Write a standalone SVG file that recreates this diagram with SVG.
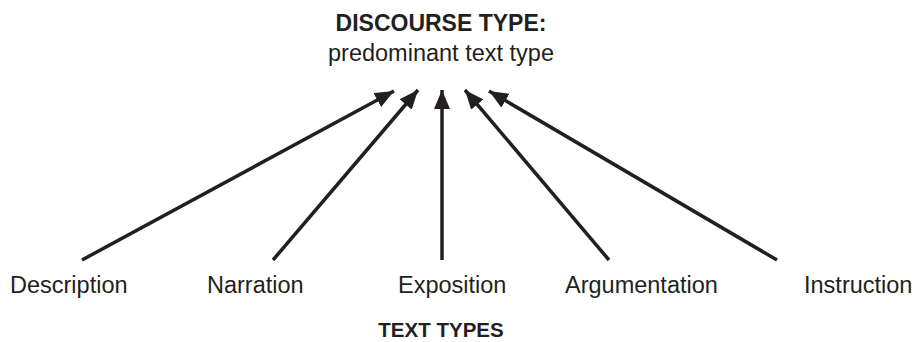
<svg xmlns="http://www.w3.org/2000/svg" width="914" height="342" viewBox="0 0 914 342">
  <style>
    text { font-family: "Liberation Sans", Arial, sans-serif; fill: #231f20; }
    .head { font-weight: bold; font-size: 23px; text-anchor: middle; }
    .sub { font-size: 23.5px; text-anchor: middle; }
    .label { font-size: 23.5px; }
    .foot { font-weight: bold; font-size: 20.5px; text-anchor: middle; }
    .link { stroke: #231f20; stroke-width: 3.5; fill: none; marker-end: url(#arrow); }
  </style>
  <defs>
    <!-- solid triangular head, 19 long x 16 wide, tip on the line end -->
    <marker id="arrow" markerUnits="userSpaceOnUse" markerWidth="19" markerHeight="16" viewBox="0 0 19 16" refX="19" refY="8" orient="auto">
      <path d="M0,0 L19,8 L0,16 Z" fill="#231f20"/>
    </marker>
  </defs>
  <rect width="914" height="342" fill="#ffffff"/>

  <g id="discourse-type">
    <text class="head" x="441" y="31">DISCOURSE TYPE:</text>
    <text class="sub" x="441" y="61">predominant text type</text>
  </g>

  <g id="connectors">
    <line class="link" x1="82" y1="260" x2="394" y2="91"/>
    <line class="link" x1="273" y1="260" x2="418" y2="90"/>
    <line class="link" x1="442" y1="260" x2="442" y2="90"/>
    <line class="link" x1="609" y1="260" x2="465" y2="90"/>
    <line class="link" x1="777" y1="260" x2="489" y2="91"/>
  </g>

  <g id="description"><text class="label" x="10" y="293">Description</text></g>
  <g id="narration"><text class="label" x="207" y="293">Narration</text></g>
  <g id="exposition"><text class="label" x="398" y="293">Exposition</text></g>
  <g id="argumentation"><text class="label" x="565" y="293">Argumentation</text></g>
  <g id="instruction"><text class="label" x="804" y="293">Instruction</text></g>

  <g id="text-types">
    <text class="foot" x="441" y="337">TEXT TYPES</text>
  </g>
</svg>
